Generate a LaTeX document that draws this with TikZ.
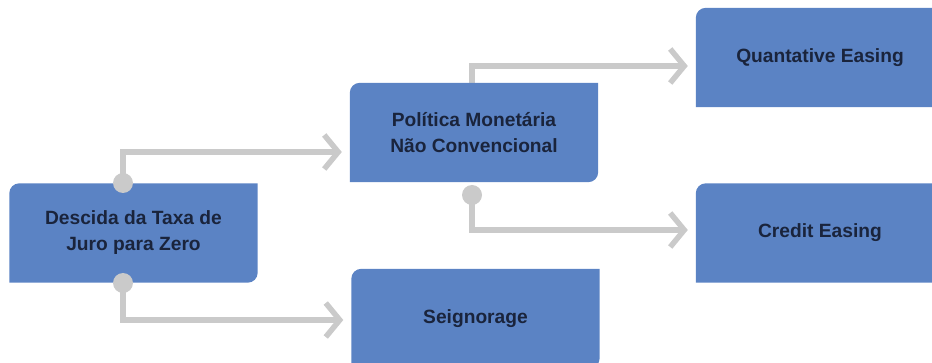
\documentclass[tikz,border=0pt]{standalone}
\usepackage{fontspec}
\setmainfont{Liberation Sans}
\usepackage{xcolor}
\usetikzlibrary{arrows.meta}
\usetikzlibrary{backgrounds}
\definecolor{boxblue}{HTML}{5B83C4}
\definecolor{boxtext}{HTML}{1A243C}
\definecolor{linegray}{HTML}{CACACA}

\begin{document}
\begin{tikzpicture}[x=1pt, y=-1pt,
    leaf/.style={inner sep=0pt, minimum width=248pt, minimum height=99pt, align=center, text=boxtext, font=\bfseries\fontsize{19.2}{26}\selectfont},
    conn/.style={draw=linegray, line width=5.5pt, -{Straight Barb[length=14pt, width=34pt]}, shorten >=8pt},
    knob/.style={circle, fill=linegray, inner sep=0pt, minimum size=20pt}]
  \useasboundingbox (0,0) rectangle (932,363);
  \node[leaf] (desc) at (133.5,233) {Descida da Taxa de\\Juro para Zero};
  \node[leaf] (pol) at (474,132.5) {Política Monetária\\Não Convencional};
  \node[leaf] (seig) at (475.5,318.5) {Seignorage};
  \node[leaf] (qe) at (820,57.5) {Quantative Easing};
  \node[leaf] (ce) at (820,233) {Credit Easing};
  \coordinate (k1) at (123,183);
  \coordinate (k2) at (123,283);
  \coordinate (k3) at (472,195);
  \begin{scope}[on background layer]
    \draw[conn] (k1) |- ([yshift=-19.5pt]pol.west);
    \draw[conn] (k2) |- ([yshift=-1.5pt]seig.west);
    \draw[conn] ([xshift=-2pt]pol.north) |- ([yshift=-8.5pt]qe.west);
    \draw[conn] (k3) |- ([yshift=3pt]ce.west);
    \foreach \n in {desc,pol,seig,qe,ce}
      \fill[boxblue] (\n.south west) -- ([yshift=-10pt]\n.north west) arc[start angle=180, end angle=90, radius=10pt] -- (\n.north east) -- ([yshift=10pt]\n.south east) arc[start angle=0, end angle=-90, radius=10pt] -- cycle;
  \end{scope}
  \foreach \k in {k1,k2,k3}
    \node[knob] at (\k) {};
\end{tikzpicture}
\end{document}
